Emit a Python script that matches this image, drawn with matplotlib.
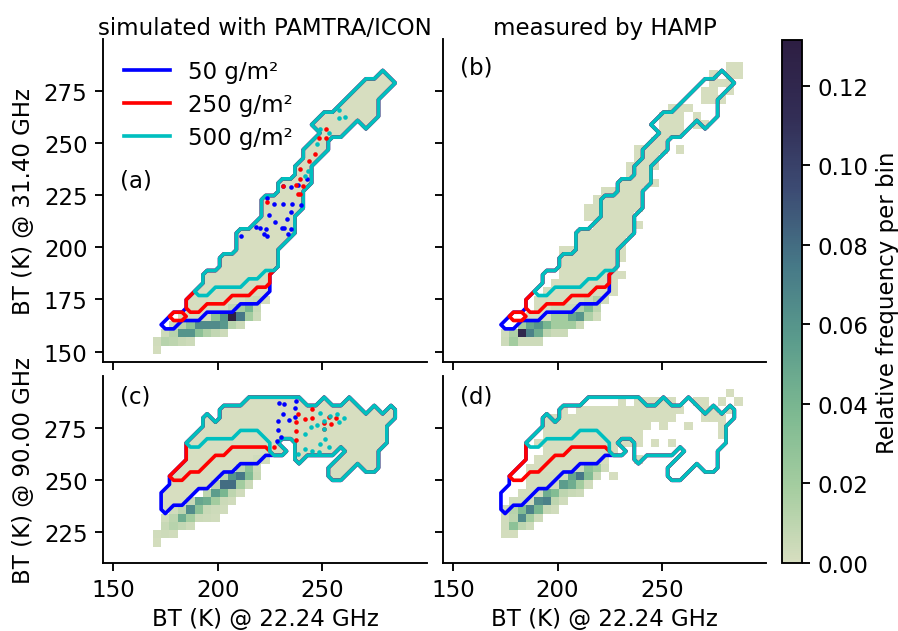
import numpy as np
import matplotlib
matplotlib.use("Agg")
import matplotlib.pyplot as plt
from matplotlib.colors import LinearSegmentedColormap

W, H = 898, 632
FS = 11
LW = 1.75
plt.rcParams["font.size"] = FS
plt.rcParams["axes.linewidth"] = 0.9
plt.rcParams["xtick.major.size"] = 3.9
plt.rcParams["ytick.major.size"] = 3.9
plt.rcParams["xtick.major.width"] = 0.9
plt.rcParams["ytick.major.width"] = 0.9

# histogram grid, 4 K bins
x_edges = np.arange(144.8, 304.9, 4)
y_edges_31 = np.arange(144.9, 305, 4)
y_edges_90 = np.arange(209.8, 302, 4)

levels = ["50 g/m\u00b2", "250 g/m\u00b2", "500 g/m\u00b2"]
line_colors = ["b", "r", "c"]
VMAX = 0.1315
LOW = 0.001

# contour regions, {row: [(first col, last col), ...]}
cyan_31 = {8: [(11, 12)], 9: [(12, 16)], 10: [(12, 18)], 11: [(14, 20)], 12: [(14, 20)],
           13: [(16, 20)], 14: [(16, 21)], 15: [(16, 22)], 16: [(18, 22)], 17: [(19, 22)],
           18: [(19, 23)], 19: [(19, 23)], 20: [(21, 23)], 21: [(21, 24)], 22: [(23, 24)],
           23: [(23, 24)], 24: [(24, 25)], 25: [(24, 26)], 26: [(25, 26)], 27: [(26, 28)],
           28: [(25, 29), (31, 31)], 29: [(26, 32)], 30: [(28, 32)], 31: [(29, 32)],
           32: [(30, 33)], 33: [(31, 34)], 34: [(33, 33)]}
red_31 = {5: [(8, 9)], 6: [(10, 11)], 7: [(10, 14)], 8: [(11, 17)], 9: [(12, 19)], 10: [(12, 19)]}
blue_31 = {4: [(7, 8)], 5: [(8, 11)], 6: [(10, 15)], 7: [(10, 18)], 8: [(11, 19)]}
fill_31 = {5: [(10, 11)], 6: [(10, 15)], 7: [(10, 18)], 8: [(11, 19)]}

cyan_90 = {10: [(27, 28)], 11: [(27, 29), (31, 32)], 12: [(23, 23), (28, 32)],
           13: [(20, 21), (23, 27), (29, 32)], 14: [(10, 11), (20, 20), (23, 33)],
           15: [(11, 15), (19, 33)], 16: [(12, 33)], 17: [(12, 12), (14, 34)],
           18: [(14, 30), (32, 32), (34, 34)], 19: [(17, 23), (26, 26), (29, 29)]}
red_90 = {10: [(8, 9)], 11: [(9, 11)], 12: [(10, 12)], 13: [(10, 14)], 14: [(10, 20)], 15: [(11, 33)]}
blue_90 = {6: [(7, 7)], 7: [(7, 9)], 8: [(7, 10)], 9: [(8, 12)], 10: [(8, 13)],
           11: [(9, 15)], 12: [(10, 18)], 13: [(10, 21)]}

# leftover dotted contour bits in the simulated panels
dots_a = {"b": ([211.1, 218.3, 219.9, 223.0, 221.8, 223.5, 224.2, 227.5, 230.7, 231.8, 235.0, 233.7,
                 232.9, 234.7, 227.0, 231.3, 235.6, 239.5, 223.4, 231.0, 235.0, 238.5, 242.5],
                [205.7, 210.0, 209.4, 208.6, 206.2, 205.4, 215.6, 212.4, 209.4, 209.4, 208.6, 206.2,
                 213.4, 216.9, 221.0, 221.0, 221.0, 220.4, 223.6, 229.3, 229.0, 229.9, 232.8]),
          "r": ([223.4, 231.0, 237.1, 238.2, 239.3, 240.9, 239.3, 239.3, 243.5, 246.5, 251.8, 251.8, 248.1],
                [221.7, 229.6, 229.9, 225.6, 225.6, 229.3, 232.8, 237.6, 241.4, 244.7, 252.4, 256.7, 252.7]),
          "c": ([243.0, 241.7, 247.3, 249.0, 252.9, 258.1, 260.8, 257.7],
                [236.8, 234.1, 249.8, 257.0, 255.1, 261.9, 262.7, 265.9])}
dots_c = {"b": ([229.4, 231.5, 237.4, 236.9, 231.0, 236.9, 234.0, 228.9, 228.9, 228.3, 230.2],
                [287.1, 286.3, 288.2, 284.5, 281.5, 280.2, 278.7, 278.3, 273.9, 268.7, 270.7]),
          "r": ([245.1, 238.5, 241.7, 244.9, 237.1, 237.1, 250.5, 254.1, 256.5, 253.3, 250.6, 226.7, 237.4],
                [283.9, 281.5, 279.1, 279.8, 277.9, 273.4, 277.5, 276.7, 279.9, 280.2, 274.4, 265.8, 269.4]),
          "c": ([248.9, 257.0, 260.5, 253.7, 250.5, 247.4, 244.6, 241.7, 257.7, 250.6, 251.0, 248.9,
                 252.9, 241.7, 244.9, 248.1, 238.5],
                [282.1, 281.8, 279.9, 280.6, 278.3, 276.6, 275.5, 272.3, 277.9, 274.7, 269.6, 267.1,
                 266.0, 264.8, 263.9, 263.3, 262.3])}

# histogram values, {row: (first col, [values])}
dense_a = {1: (6, [.002]),
           2: (6, [.003, .012, .01, .006, .004]),
           3: (7, [.004, .012, .06, .06, .03, .015, .008, .004]),
           4: (8, [.004, .012, .03, .065, .065, .065, .058, .012, .005]),
           5: (9, [.002, .002, .002, .002, .03, .06, .13, .075, .02, .004]),
           6: (15, [.008, .02, .04, .006]),
           7: (17, [.004, .006, .002])}
dense_b = {2: (7, [.004, .02, .004, .004, .004]),
           3: (7, [.003, .015, .12, .07, .045, .01, .005, .005]),
           4: (9, [.02, .05, .06, .04, .02, .02, .02, .005]),
           5: (13, [.02, .02, .05, .06, .015, .003]),
           6: (13, [.005, .005, .005, .015, .035, .01]),
           7: (17, [.005, .015, .003])}
light_b = {5: [(10, 12)], 6: [(11, 12)], 7: [(11, 16)], 8: [(12, 20)], 9: [(13, 20)], 10: [(14, 21)],
           11: [(14, 20)], 12: [(14, 21)], 13: [(14, 21)], 14: [(16, 21)], 15: [(16, 22)],
           16: [(18, 23)], 17: [(17, 22)], 18: [(17, 23)], 19: [(18, 23)], 20: [(19, 23)],
           21: [(21, 24), (25, 25)], 22: [(22, 24)], 23: [(22, 25)], 24: [(23, 25)],
           25: [(23, 26), (28, 28)], 26: [(25, 26)], 27: [(26, 28)], 28: [(26, 28), (30, 31)],
           29: [(26, 28), (30, 30)], 30: [(27, 29)], 31: [(31, 33)], 32: [(31, 32), (34, 34)],
           33: [(32, 34)], 34: [(32, 32), (34, 35)], 35: [(34, 35)]}
dense_c = {2: (6, [.002]),
           3: (6, [.003, .004, .003]),
           4: (7, [.006, .012, .008, .004]),
           5: (7, [.003, .01, .045, .02, .005, .004, .003]),
           6: (8, [.003, .01, .065, .03, .006, .004, .003]),
           7: (10, [.006, .05, .045, .02, .005, .003]),
           8: (12, [.01, .055, .04, .01, .003]),
           9: (13, [.01, .08, .08, .02, .005]),
           10: (14, [.01, .06, .075, .035, .006]),
           11: (16, [.01, .03, .005]),
           12: (18, [.003, .003])}
dense_d = {3: (7, [.002, .002]),
           4: (7, [.003, .03, .01, .004]),
           5: (7, [.003, .01, .065, .02, .004]),
           6: (7, [.002, .012, .035, .07, .04, .006, .003]),
           7: (8, [.003, .003, .003, .065, .07, .01, .003]),
           8: (9, [.002, .002, .002, .045, .035, .01, .006, .004]),
           9: (10, [.002, .002, .002, .003, .055, .045, .02, .003]),
           10: (10, [.002, .002, .002, .002, .003, .05, .075, .035, .005]),
           11: (16, [.004, .03, .02, .003])}
light_d = {10: [(20, 20)], 11: [(10, 15)], 12: [(11, 19), (23, 23)], 13: [(12, 20)],
           14: [(11, 23), (25, 25), (27, 27)], 15: [(12, 23), (33, 33)],
           16: [(12, 24), (26, 26), (29, 29), (33, 33)], 17: [(12, 27), (31, 33)],
           18: [(14, 14), (16, 28), (31, 32), (34, 34)],
           19: [(21, 21), (23, 27), (30, 31), (33, 33), (35, 35)], 20: [(34, 34)]}

deep = LinearSegmentedColormap.from_list(
    "deep_like",
    [(215 / 255, 222 / 255, 192 / 255), (165 / 255, 205 / 255, 160 / 255), (125 / 255, 185 / 255, 145 / 255),
     (90 / 255, 155 / 255, 140 / 255), (70 / 255, 120 / 255, 135 / 255), (60 / 255, 75 / 255, 115 / 255),
     (50 / 255, 45 / 255, 85 / 255), (45 / 255, 30 / 255, 66 / 255)])


def make_grid(ny, *layers):
    grid = np.zeros((ny, len(x_edges) - 1))
    for layer in layers:
        for row, spans in layer.items():
            for c0, c1 in spans:
                grid[row, c0:c1 + 1] = 1.0
    return grid


def make_hist(ny, light, dense):
    grid = make_grid(ny, light) * LOW
    for row, (c0, vals) in dense.items():
        grid[row, c0:c0 + len(vals)] = vals
    return np.ma.masked_equal(grid, 0)


def add_axes(left, right, top, bottom):
    ax = fig.add_axes([left / W, 1 - bottom / H, (right - left) / W, (bottom - top) / H])
    ax.spines["top"].set_visible(False)
    ax.spines["right"].set_visible(False)
    return ax


fig = plt.figure(figsize=(W / 150, H / 150), dpi=150)
ax_a = add_axes(103, 427, 40, 363)
ax_b = add_axes(443, 766, 40, 363)
ax_c = add_axes(103, 427, 377, 564)
ax_d = add_axes(443, 766, 377, 564)

x_centers = (x_edges[:-1] + x_edges[1:]) / 2
y_centers_31 = (y_edges_31[:-1] + y_edges_31[1:]) / 2
y_centers_90 = (y_edges_90[:-1] + y_edges_90[1:]) / 2
ny31, ny90 = len(y_centers_31), len(y_centers_90)

masks_31 = [make_grid(ny31, cyan_31, red_31, blue_31), make_grid(ny31, cyan_31, red_31), make_grid(ny31, cyan_31)]
masks_90 = [make_grid(ny90, cyan_90, red_90, blue_90), make_grid(ny90, cyan_90, red_90), make_grid(ny90, cyan_90)]

# simulated panels look filled right up to the outline, so fill first
ax_a.contourf(x_centers, y_centers_31, make_grid(ny31, cyan_31, {k: v for k, v in red_31.items() if k != 5}, fill_31),
              levels=[0.501, 2], colors=[deep(0.0)])
ax_c.contourf(x_centers, y_centers_90, masks_90[0], levels=[0.501, 2], colors=[deep(0.0)])

mesh = ax_a.pcolormesh(x_edges, y_edges_31, make_hist(ny31, {}, dense_a), cmap=deep, vmin=0, vmax=VMAX)
ax_b.pcolormesh(x_edges, y_edges_31, make_hist(ny31, light_b, dense_b), cmap=deep, vmin=0, vmax=VMAX)
ax_c.pcolormesh(x_edges, y_edges_90, make_hist(ny90, {}, dense_c), cmap=deep, vmin=0, vmax=VMAX)
ax_d.pcolormesh(x_edges, y_edges_90, make_hist(ny90, light_d, dense_d), cmap=deep, vmin=0, vmax=VMAX)

for ax, yc, masks in [(ax_a, y_centers_31, masks_31), (ax_b, y_centers_31, masks_31),
                      (ax_c, y_centers_90, masks_90), (ax_d, y_centers_90, masks_90)]:
    for mask, col in zip(masks, line_colors):
        ax.contour(x_centers, yc, mask, levels=[0.501], colors=col, linewidths=LW)

for ax, dots in [(ax_a, dots_a), (ax_c, dots_c)]:
    for col in line_colors:
        ax.plot(dots[col][0], dots[col][1], ls="none", marker="o", ms=2.2, mew=0, color=col)

for ax in [ax_a, ax_b]:
    ax.set_xlim(145, 300)
    ax.set_ylim(145, 300)
    ax.set_yticks([150, 175, 200, 225, 250, 275])
for ax in [ax_c, ax_d]:
    ax.set_xlim(145, 300)
    ax.set_ylim(210, 300)
    ax.set_yticks([225, 250, 275])
    ax.set_xlabel("BT (K) @ 22.24 GHz", labelpad=2.5)
for ax in [ax_a, ax_b, ax_c, ax_d]:
    ax.set_xticks([150, 200, 250])
ax_a.set_xticklabels([])
ax_b.set_xticklabels([])
ax_b.set_yticklabels([])
ax_d.set_yticklabels([])

ax_a.set_ylabel("BT (K) @ 31.40 GHz", labelpad=4)
ax_c.set_ylabel("BT (K) @ 90.00 GHz", labelpad=4)
ax_a.set_title("simulated with PAMTRA/ICON", fontsize=FS, pad=2)
ax_b.set_title("measured by HAMP", fontsize=FS, pad=2)

ax_a.text(0.052, 0.563, "(a)", transform=ax_a.transAxes, va="center")
ax_b.text(0.052, 0.913, "(b)", transform=ax_b.transAxes, va="center")
ax_c.text(0.052, 0.893, "(c)", transform=ax_c.transAxes, va="center")
ax_d.text(0.052, 0.893, "(d)", transform=ax_d.transAxes, va="center")

for name, col in zip(levels, line_colors):
    ax_a.plot([], [], color=col, lw=LW, label=name)
ax_a.legend(loc="upper left", frameon=False, handlelength=2.02, labelspacing=0.45, borderaxespad=0.5)

cax = fig.add_axes([782 / W, 1 - 564 / H, 20 / W, 523 / H])
cbar = fig.colorbar(mesh, cax=cax)
cbar.set_ticks([0, 0.02, 0.04, 0.06, 0.08, 0.10, 0.12])
cbar.ax.set_yticklabels(["0.00", "0.02", "0.04", "0.06", "0.08", "0.10", "0.12"])
cbar.set_label("Relative frequency per bin", labelpad=3.8)

fig.savefig("out.png", dpi=150)
plt.close()
